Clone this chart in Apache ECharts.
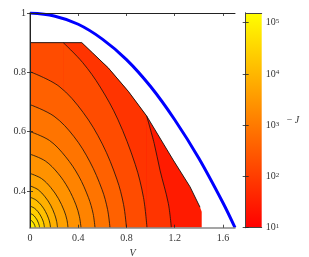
<!DOCTYPE html>
<html><head><meta charset="utf-8">
<script src="https://cdn.jsdelivr.net/npm/echarts@6/dist/echarts.min.js"></script>
<style>html,body{margin:0;padding:0;background:#fff}#c{width:309px;height:257px}</style>
</head><body><div id="c"></div>
<script>
// ---- data ----
const xTicks = [0, 0.4, 0.8, 1.2, 1.6];
const yTicks = [0.4, 0.6, 0.8, 1];
const cbTicks = [1, 2, 3, 4, 5];          // log10(-J) decades on the colour bar
const cbRange = [1, 5.19];
const xRange = [0, 1.7];
const yRange = [0.276, 1];

// blue curve
const curveV = [0, 0.2, 0.4, 0.6, 0.8, 1.0, 1.2, 1.4, 1.6, 1.7];
const curveW = [1, 0.99, 0.962, 0.912, 0.843, 0.752, 0.64, 0.51, 0.36, 0.276];

// domain boundary (top edge and diagonal edge)
const boundaryTop = [[0,0.9],[0.43,0.9],[0.52,0.865],[0.649,0.815],[0.815,0.736],[0.967,0.653]];
const boundaryLow = [[0.967,0.653],[1.188,0.504],[1.327,0.414],[1.41,0.345],[1.424,0.33],[1.424,0.276]];

// band levels (log10 of -J): outer band, then inside each contour, outermost first
const outerLevel = 1.45;
const levels = [1.85, 2.25, 2.6, 2.9, 3.15, 3.4, 3.65, 3.9, 4.15, 4.4, 4.65, 4.9];

// contour lines, [V, omega]
const c1 = [[0.967,0.653],[1.03,0.56],[1.078,0.47],[1.147,0.358],[1.172,0.276]];
const c2Lead = [[0,0.9],[0.276,0.9]];
const c2 = [[0.276,0.9],[0.4365,0.833],[0.582,0.7505],[0.7275,0.642],[0.873,0.489],[0.941,0.378],[0.97,0.276]];
const c3 = [[0,0.802],[0.24,0.753],[0.44,0.665],[0.60,0.558],[0.72,0.440],[0.776,0.354],[0.80,0.276]];
const c4 = [[0,0.691],[0.199,0.652],[0.365,0.583],[0.497,0.498],[0.597,0.405],[0.643,0.338],[0.663,0.276]];
const c5 = [[0,0.600],[0.162,0.570],[0.296,0.515],[0.404,0.450],[0.485,0.377],[0.523,0.324],[0.539,0.276]];
const c6 = [[0,0.524],[0.127,0.501],[0.233,0.459],[0.317,0.409],[0.381,0.353],[0.410,0.313],[0.423,0.276]];
const c7 = [[0,0.459],[0.0945,0.442],[0.173,0.411],[0.236,0.374],[0.2835,0.333],[0.306,0.303],[0.315,0.276]];
const c8 = [[0,0.417],[0.068,0.404],[0.125,0.380],[0.171,0.352],[0.205,0.320],[0.221,0.297],[0.228,0.276]];
const c9 = [[0,0.379],[0.051,0.369],[0.0935,0.352],[0.1275,0.331],[0.153,0.308],[0.165,0.291],[0.17,0.276]];
const c10 = [[0,0.349],[0.036,0.342],[0.066,0.330],[0.09,0.315],[0.108,0.299],[0.116,0.287],[0.12,0.276]];
const c11 = [[0,0.324],[0.024,0.3195],[0.043,0.3115],[0.059,0.302],[0.071,0.291],[0.077,0.283],[0.079,0.276]];
const c12 = [[0,0.302],[0.013,0.2995],[0.024,0.2952],[0.032,0.290],[0.039,0.284],[0.042,0.280],[0.043,0.276]];

// ---- drawing ----
const FONT = 'Liberation Serif';
const TXT = '#333';
function autumn(L) {
  let t = (L - cbRange[0]) / (cbRange[1] - cbRange[0]);
  t = Math.max(0, Math.min(1, t));
  return 'rgb(255,' + Math.round(255 * t) + ',0)';
}
const series = [];
let zc = 2;
function addLine(pts, fill, smooth, line) {
  const s = {
    type: 'line', xAxisIndex: 0, yAxisIndex: 0, data: pts,
    showSymbol: false, symbol: 'none', silent: true, z: zc++,
    smooth: smooth ? 0.35 : false,
    lineStyle: line ? { color: line.color, width: line.width } : { width: 0, opacity: 0 }
  };
  if (fill) s.areaStyle = { color: fill, opacity: 1, origin: 'start' };
  series.push(s);
}
const black = { color: '#111', width: 0.8 };
// outer band = whole domain
addLine(boundaryTop.concat(boundaryLow.slice(1)), autumn(outerLevel), false, null);
// inside c1 (runs along the boundary down to the kink, then leaves it)
addLine(boundaryTop, autumn(levels[0]), false, null);
addLine(c1, autumn(levels[0]), true, black);
// inside c2 (starts on the top edge)
addLine(c2Lead, autumn(levels[1]), false, null);
addLine(c2, autumn(levels[1]), true, black);
const inner = [c3, c4, c5, c6, c7, c8, c9, c10, c11, c12];
inner.forEach((c, i) => addLine(c, autumn(levels[i + 2]), true, black));
// boundary outline
addLine(boundaryTop.concat(boundaryLow.slice(1, 4)), null, false, { color: '#111', width: 0.9 });
// blue curve
addLine(curveV.map((v, i) => [v, curveW[i]]), null, true, { color: '#0000ff', width: 3 });

// colour bar fill
series.push({
  type: 'custom', xAxisIndex: 2, yAxisIndex: 2, data: [[0, cbRange[0]]], silent: true, z: 1,
  renderItem: function (params, api) {
    const p0 = api.coord([0, cbRange[1]]);
    const p1 = api.coord([1, cbRange[0]]);
    return {
      type: 'rect',
      shape: { x: p0[0], y: p0[1], width: p1[0] - p0[0], height: p1[1] - p0[1] },
      style: { fill: new echarts.graphic.LinearGradient(0, 0, 0, 1, [
        { offset: 0, color: autumn(cbRange[1]) }, { offset: 1, color: autumn(cbRange[0]) }]) }
    };
  }
});

const tickStyle = (vals) => ({ show: true, inside: true, length: 3, customValues: vals, lineStyle: { color: '#222', width: 0.8 } });
const fmtNum = v => (Math.abs(v - 1) < 1e-9 ? '1' : (v === 0 ? '0' : String(+v.toFixed(2))));

const option = {
  backgroundColor: '#fff',
  animation: false,
  grid: [
    { left: 30, top: 13, width: 205, height: 214.7, outerBoundsMode: 'none', containLabel: false },
    { left: 245.7, top: 13, width: 16, height: 214.7, outerBoundsMode: 'none', containLabel: false }
  ],
  xAxis: [
    { type: 'value', gridIndex: 0, min: xRange[0], max: xRange[1], position: 'bottom', z: 50,
      axisLine: { show: true, lineStyle: { color: '#888', width: 1.5 } },
      axisTick: tickStyle(xTicks),
      axisLabel: { customValues: xTicks, formatter: fmtNum, fontFamily: FONT, fontSize: 10, color: TXT, margin: 6 },
      splitLine: { show: false },
      name: 'V', nameLocation: 'middle', nameGap: 11,
      nameTextStyle: { fontFamily: FONT, fontStyle: 'italic', fontSize: 10, color: TXT } },
    { type: 'value', gridIndex: 0, min: xRange[0], max: xRange[1], position: 'top', z: 50,
      axisLine: { show: true, lineStyle: { color: '#222', width: 1 } },
      axisTick: tickStyle(xTicks), axisLabel: { show: false }, splitLine: { show: false } },
    { type: 'value', gridIndex: 1, min: 0, max: 1, position: 'bottom', z: 50,
      axisLine: { show: true, lineStyle: { color: '#444', width: 1 } },
      axisTick: { show: false }, axisLabel: { show: false }, splitLine: { show: false } },
    { type: 'value', gridIndex: 1, min: 0, max: 1, position: 'top', z: 50,
      axisLine: { show: true, lineStyle: { color: '#444', width: 1 } },
      axisTick: { show: false }, axisLabel: { show: false }, splitLine: { show: false } }
  ],
  yAxis: [
    { type: 'value', gridIndex: 0, min: yRange[0], max: yRange[1], position: 'left', z: 50,
      axisLine: { show: true, lineStyle: { color: '#888', width: 1.5 } },
      axisTick: tickStyle(yTicks),
      axisLabel: { customValues: yTicks, formatter: fmtNum, fontFamily: FONT, fontSize: 10, color: TXT, margin: 4 },
      splitLine: { show: false },
      name: 'ω', nameLocation: 'middle', nameGap: 27, nameRotate: 90,
      nameTextStyle: { fontFamily: FONT, fontStyle: 'italic', fontSize: 10, color: TXT } },
    { type: 'value', gridIndex: 0, min: yRange[0], max: yRange[1], position: 'right', z: 50,
      axisLine: { show: true, lineStyle: { color: '#222', width: 1 } },
      axisTick: tickStyle(yTicks), axisLabel: { show: false }, splitLine: { show: false } },
    { type: 'value', gridIndex: 1, min: cbRange[0], max: cbRange[1], position: 'left', z: 50,
      axisLine: { show: true, lineStyle: { color: '#444', width: 1 } },
      axisTick: tickStyle(cbTicks), axisLabel: { show: false }, splitLine: { show: false } },
    { type: 'value', gridIndex: 1, min: cbRange[0], max: cbRange[1], position: 'right', z: 50,
      axisLine: { show: true, lineStyle: { color: '#444', width: 1 } },
      axisTick: tickStyle(cbTicks),
      axisLabel: { customValues: cbTicks, margin: 4,
        formatter: v => '{b|10}{s|' + Math.round(v) + '}',
        rich: { b: { fontFamily: FONT, fontSize: 10, color: TXT },
                s: { fontFamily: FONT, fontSize: 7, color: TXT, verticalAlign: 'top' } } },
      splitLine: { show: false },
      name: '{m|− }{j|J}', nameLocation: 'middle', nameGap: 25, nameRotate: 0,
      nameTextStyle: { rich: { m: { fontFamily: FONT, fontSize: 10, color: TXT },
                               j: { fontFamily: FONT, fontSize: 10, color: TXT, fontStyle: 'italic' } } } }
  ],
  series: series
};
const chart = echarts.init(document.getElementById('c'), null, { renderer: 'canvas' });
chart.setOption(option);
</script></body></html>
